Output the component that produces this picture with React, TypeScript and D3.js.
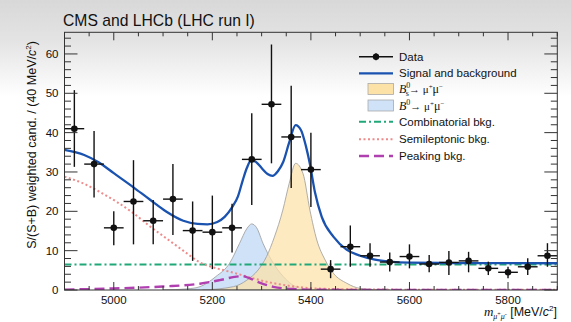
import React from 'react';
import * as d3 from 'd3';

const W = 571;
const H = 322;

// Data: S/(S+B) weighted candidates per 40 MeV bin
const binCenters = [4920, 4960, 5000, 5040, 5080, 5120, 5160, 5200, 5240, 5280, 5320, 5360, 5400, 5440, 5480, 5520, 5560, 5600, 5640, 5680, 5720, 5760, 5800, 5840, 5880];
const dataValues = [41.0, 32.0, 15.8, 22.5, 17.6, 23.1, 15.1, 14.7, 15.8, 33.2, 47.2, 38.9, 30.6, 5.3, 11.0, 8.7, 7.1, 8.5, 6.6, 7.0, 7.4, 5.5, 4.5, 5.9, 8.7];
const errLowEnd = [31.3, 23.5, 11.4, 11.6, 11.6, 14.0, 7.4, 5.3, 9.5, 21.6, 32.2, 25.9, 21.1, 3.0, 5.9, 5.9, 4.7, 5.5, 4.5, 3.8, 4.5, 3.8, 3.0, 3.8, 5.9];
const errHighEnd = [50.8, 40.4, 20.0, 33.0, 22.9, 32.0, 22.5, 24.0, 21.9, 44.9, 62.4, 51.9, 40.0, 7.6, 16.4, 11.9, 9.5, 11.6, 8.9, 9.9, 9.7, 7.2, 5.9, 8.1, 11.9];
const binHalfWidth = 20;

// Fit components, [mass, value]
const totalFit: [number, number][] = [
  [4900, 35.6], [4940, 34.3], [4970, 32.4], [5000, 29.7], [5040, 26.1], [5073, 23.0], [5107, 19.9],
  [5141, 17.6], [5170, 16.8], [5190, 16.7], [5210, 17.3], [5225, 18.6], [5240, 21.0], [5252, 23.8],
  [5262, 28.0], [5270, 31.0], [5279, 33.0], [5290, 32.4], [5300, 31.0], [5312, 29.5], [5322, 29.0],
  [5333, 30.2], [5344, 32.6], [5356, 37.5], [5369, 41.9], [5380, 40.6], [5390, 36.5], [5398, 32.0],
  [5408, 25.0], [5422, 18.6], [5446, 13.5], [5473, 10.2], [5500, 8.7], [5530, 7.7], [5560, 7.2],
  [5600, 6.95], [5700, 6.85], [5900, 6.8],
];
const combinatorialBkg: [number, number][] = [[4900, 6.5], [5900, 6.5]];
const semileptonicBkg: [number, number][] = [
  [4900, 28.8], [4938, 27.1], [4972, 24.9], [5006, 22.4], [5040, 19.5], [5073, 16.2], [5107, 13.1],
  [5141, 10.0], [5175, 7.0], [5209, 5.5], [5243, 4.4], [5276, 3.2], [5310, 2.1], [5344, 1.3],
  [5378, 0.7], [5445, 0.25], [5550, 0.1], [5900, 0.05],
];
const peakingBkg: [number, number][] = [
  [4900, 0.1], [5000, 0.4], [5100, 0.9], [5175, 1.6], [5215, 2.5], [5249, 3.4], [5262, 3.5],
  [5275, 3.0], [5297, 1.8], [5324, 0.8], [5364, 0.25], [5420, 0.05], [5900, 0.0],
];
const b0Signal: [number, number][] = [
  [5100, 0], [5150, 0.3], [5175, 0.85], [5207, 3.4], [5235, 6.8], [5255, 11.8], [5270, 15.6],
  [5280, 16.8], [5290, 15.8], [5303, 11.8], [5320, 7.6], [5344, 3.4], [5378, 0.5], [5420, 0.05], [5450, 0],
];
const bsSignal: [number, number][] = [
  [5180, 0], [5243, 0.85], [5270, 2.5], [5293, 5.1], [5310, 8.5], [5326, 13.5], [5343, 20.3],
  [5356, 27.1], [5369, 32.2], [5384, 29.6], [5398, 20.3], [5412, 12.7], [5429, 7.6], [5446, 4.2],
  [5473, 1.7], [5500, 0.4], [5540, 0.05], [5560, 0],
];

const xMajorTicks = [5000, 5200, 5400, 5600, 5800];
const yMajorTicks = [0, 10, 20, 30, 40, 50, 60];

const x = d3.scaleLinear().domain([4900, 5900]).range([64.5, 557.3]);
const y = d3.scaleLinear().domain([0, 65.5]).range([290, 32.3]);

const line = d3.line<[number, number]>().x(d => x(d[0])).y(d => y(d[1])).curve(d3.curveMonotoneX);
const area = d3.area<[number, number]>().x(d => x(d[0])).y0(y(0)).y1(d => y(d[1])).curve(d3.curveMonotoneX);

const SANS = '"Liberation Sans", Arial, Helvetica, sans-serif';
const SERIF = '"Liberation Serif", "Times New Roman", serif';
const AXIS = '#333';

const C_TOTAL = '#1a52b0';
const C_BS = '#fde2a8';
const C_B0 = '#cfe2f8';
const C_COMB = '#20a878';
const C_SEMI = '#ee8a8a';
const C_PEAK = '#b040b0';

export default function App() {
  const [x0, x1] = x.range();
  const [yb, yt] = y.range();
  const xMinor = d3.range(4900, 5901, 50);
  const yMinor = d3.range(0, 65.5, 2);

  const legendX = 359;
  const legendTextX = 399;
  const rows = [56.7, 73.3, 89, 105.5, 121.7, 139.3, 156];

  return (
    <svg width={W} height={H} style={{ position: 'absolute', left: 0, top: 0 }} fontFamily={SANS}>
      <defs>
        <linearGradient id="bg" x1="0" y1="0" x2="0" y2="1">
          <stop offset="0" stopColor="#d8d8d8" />
          <stop offset="0.13" stopColor="#e4e4e4" />
          <stop offset="0.3" stopColor="#ffffff" />
          <stop offset="1" stopColor="#ffffff" />
        </linearGradient>
        <clipPath id="plot">
          <rect x={x0} y={yt} width={x1 - x0} height={yb - yt} />
        </clipPath>
      </defs>
      <rect width={W} height={H} fill="url(#bg)" />

      <text x={63} y={25.5} fontSize={15.7} fill="#111">CMS and LHCb (LHC run I)</text>

      <g clipPath="url(#plot)">
        <path d={area(b0Signal) || ''} fill={C_B0} stroke="#9a9a9a" strokeWidth={0.8} />
        <path d={area(bsSignal) || ''} fill={C_BS} fillOpacity={0.72} stroke="#9a9a9a" strokeWidth={0.8} />
        <path d={line(combinatorialBkg) || ''} fill="none" stroke={C_COMB} strokeWidth={2} strokeDasharray="7 3 2 3" />
        <path d={line(semileptonicBkg) || ''} fill="none" stroke={C_SEMI} strokeWidth={2} strokeDasharray="2 2.5" />
        <path d={line(peakingBkg) || ''} fill="none" stroke={C_PEAK} strokeWidth={2.4} strokeDasharray="10 5" />
        <path d={line(totalFit) || ''} fill="none" stroke={C_TOTAL} strokeWidth={2.3} />
      </g>

      {/* data points with error bars */}
      <g stroke="#111" strokeWidth={1.4}>
        {binCenters.map((m, i) => (
          <g key={m}>
            <line x1={x(m)} x2={x(m)} y1={y(errLowEnd[i])} y2={y(errHighEnd[i])} />
            <line x1={x(m - binHalfWidth)} x2={x(m + binHalfWidth)} y1={y(dataValues[i])} y2={y(dataValues[i])} />
            <circle cx={x(m)} cy={y(dataValues[i])} r={3.3} fill="#111" stroke="none" />
          </g>
        ))}
      </g>

      {/* frame and ticks */}
      <g stroke={AXIS} strokeWidth={1}>
        <rect x={x0} y={yt} width={x1 - x0} height={yb - yt} fill="none" />
        {xMinor.map(v => {
          const major = v % 200 === 0 && v !== 4900;
          const len = major ? 8 : 4;
          return (
            <g key={'xt' + v}>
              <line x1={x(v)} x2={x(v)} y1={yb} y2={yb - len} />
              <line x1={x(v)} x2={x(v)} y1={yt} y2={yt + len} />
            </g>
          );
        })}
        {yMinor.map(v => {
          const major = v % 10 === 0;
          const len = major ? 13 : 6.5;
          return (
            <g key={'yt' + v}>
              <line x1={x0} x2={x0 + len} y1={y(v)} y2={y(v)} />
              <line x1={x1} x2={x1 - len} y1={y(v)} y2={y(v)} />
            </g>
          );
        })}
      </g>

      <g fontSize={11.5} fill="#111">
        {xMajorTicks.map(v => (
          <text key={'xl' + v} x={x(v)} y={304} textAnchor="middle">{v}</text>
        ))}
        {yMajorTicks.map(v => (
          <text key={'yl' + v} x={58.5} y={y(v) + 4} textAnchor="end">{v}</text>
        ))}
      </g>

      {/* axis titles */}
      <text x={557} y={316} textAnchor="end" fontSize={12.5} fill="#111">
        <tspan fontFamily={SERIF} fontStyle="italic" fontSize={13}>m</tspan>
        <tspan fontFamily={SERIF} fontStyle="italic" fontSize={8} dy={2.5}>μ</tspan>
        <tspan fontFamily={SERIF} fontSize={6} dy={-3}>+</tspan>
        <tspan fontFamily={SERIF} fontStyle="italic" fontSize={8} dy={3}>μ</tspan>
        <tspan fontFamily={SERIF} fontSize={6} dy={-3}>-</tspan>
        <tspan dy={0.5}> [MeV/</tspan>
        <tspan fontStyle="italic">c</tspan>
        <tspan fontSize={8} dy={-5}>2</tspan>
        <tspan dy={5}>]</tspan>
      </text>

      <text transform="translate(36,145) rotate(-90)" textAnchor="middle" fontSize={12.5} fill="#111">
        S/(S+B) weighted cand. / (40 MeV/<tspan fontStyle="italic">c</tspan>
        <tspan fontSize={8} dy={-5}>2</tspan>
        <tspan dy={5}>)</tspan>
      </text>

      {/* legend */}
      <g fontSize={11.5} fill="#111">
        <line x1={legendX} x2={legendX + 34} y1={rows[0]} y2={rows[0]} stroke="#111" strokeWidth={1.4} />
        <line x1={legendX + 17} x2={legendX + 17} y1={rows[0] - 3.5} y2={rows[0] + 3.5} stroke="#111" strokeWidth={1.4} />
        <circle cx={legendX + 17} cy={rows[0]} r={3.2} fill="#111" />
        <text x={legendTextX} y={rows[0] + 4}>Data</text>

        <line x1={legendX} x2={legendX + 34} y1={rows[1]} y2={rows[1]} stroke={C_TOTAL} strokeWidth={2.3} />
        <text x={legendTextX} y={rows[1] + 4}>Signal and background</text>

        <rect x={368} y={rows[2] - 5.5} width={25.5} height={11} fill={C_BS} stroke="#aaa" strokeWidth={0.8} />
        <text x={legendTextX} y={rows[2] + 4} fontFamily={SERIF} fontSize={12}>
          <tspan fontStyle="italic">B</tspan>
          <tspan fontSize={8} dy={-5}>0</tspan>
          <tspan fontSize={8} dx={-4.5} dy={8}>s</tspan>
          <tspan fontSize={11} dy={-3}>→ μ</tspan>
          <tspan fontSize={7} dy={-4}>+</tspan>
          <tspan dy={4}>μ</tspan>
          <tspan fontSize={7} dy={-4}>−</tspan>
        </text>

        <rect x={368} y={rows[3] - 5.5} width={25.5} height={11} fill={C_B0} stroke="#aaa" strokeWidth={0.8} />
        <text x={legendTextX} y={rows[3] + 4} fontFamily={SERIF} fontSize={12}>
          <tspan fontStyle="italic">B</tspan>
          <tspan fontSize={8} dy={-5}>0</tspan>
          <tspan fontSize={11} dy={5}>→ μ</tspan>
          <tspan fontSize={7} dy={-4}>+</tspan>
          <tspan dy={4}>μ</tspan>
          <tspan fontSize={7} dy={-4}>−</tspan>
        </text>

        <line x1={legendX} x2={legendX + 34} y1={rows[4]} y2={rows[4]} stroke={C_COMB} strokeWidth={2} strokeDasharray="7 3 2 3" />
        <text x={legendTextX} y={rows[4] + 4}>Combinatorial bkg.</text>

        <line x1={legendX} x2={legendX + 34} y1={rows[5]} y2={rows[5]} stroke={C_SEMI} strokeWidth={2} strokeDasharray="2 2.5" />
        <text x={legendTextX} y={rows[5] + 4}>Semileptonic bkg.</text>

        <line x1={legendX} x2={legendX + 34} y1={rows[6]} y2={rows[6]} stroke={C_PEAK} strokeWidth={2.4} strokeDasharray="10 5" />
        <text x={legendTextX} y={rows[6] + 4}>Peaking bkg.</text>
      </g>
    </svg>
  );
}
